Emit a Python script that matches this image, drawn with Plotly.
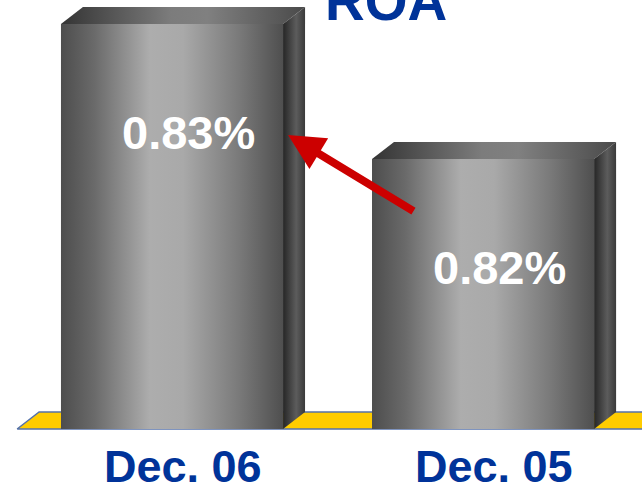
import plotly.graph_objects as go

# --- data ---------------------------------------------------------------
categories = ["Dec. 06", "Dec. 05"]
roa_values = [0.83, 0.82]
value_labels = ["0.83%", "0.82%"]
title_text = "ROA"

# --- styling / geometry constants ----------------------------------------
AXIS_BASE = 0.80          # the value axis is truncated at 0.80 %
HALF_W = 0.357            # half width of a bar front (category units)
DEPTH_X = 0.0707          # 3-D depth offset along x (category units)
DEPTH_Y = 0.00126         # 3-D depth offset along y (value units)
FONT = "Liberation Sans, Arial, sans-serif"
BLUE = "#003399"

front_scale = [[0, "#4d4d4d"], [0.15, "#6a6a6a"], [0.4, "#adadad"],
               [0.55, "#a9a9a9"], [0.8, "#7a7a7a"], [1, "#4f4f4f"]]
top_scale = [[0, "#343434"], [0.45, "#7c7c7c"], [0.6, "#808080"], [1, "#4a4a4a"]]
side_scale = [[0, "#262626"], [0.6, "#5c5c5c"], [1, "#3a3a3a"]]

fig = go.Figure()


def poly(xs, ys, scale=None, color=None, line=None):
    trace = dict(x=xs + [xs[0]], y=ys + [ys[0]], mode="lines", fill="toself",
                 hoverinfo="skip", showlegend=False,
                 line=line or dict(width=0, color="rgba(0,0,0,0)"))
    if scale is not None:
        trace["fillgradient"] = dict(type="horizontal", colorscale=scale)
    else:
        trace["fillcolor"] = color
    fig.add_trace(go.Scatter(**trace))


# floor strip under the bars
n = len(categories)
floor_left = -HALF_W - 0.141
floor_right = n + 1.0
poly([floor_left, floor_right, floor_right + DEPTH_X, floor_left + DEPTH_X],
     [AXIS_BASE, AXIS_BASE, AXIS_BASE + DEPTH_Y, AXIS_BASE + DEPTH_Y],
     color="#FFCC00", line=dict(width=1.5, color="#5572aa"))

# 3-D bars: front, top and side faces built from each value
for i, v in enumerate(roa_values):
    xl, xr = i - HALF_W, i + HALF_W
    poly([xl, xr, xr, xl], [AXIS_BASE, AXIS_BASE, v, v], scale=front_scale)
    poly([xl, xr, xr + DEPTH_X, xl + DEPTH_X], [v, v, v + DEPTH_Y, v + DEPTH_Y],
         scale=top_scale)
    poly([xr, xr, xr + DEPTH_X, xr + DEPTH_X],
         [AXIS_BASE, v, v + DEPTH_Y, AXIS_BASE + DEPTH_Y], scale=side_scale)

annotations = []
for i, (v, lab, cat) in enumerate(zip(roa_values, value_labels, categories)):
    annotations.append(dict(x=i + 0.053, y=v - 0.0080, xref="x", yref="y",
                            yanchor="middle",
                            text=f"<b>{lab}</b>", showarrow=False,
                            font=dict(family=FONT, size=47, color="white")))
    annotations.append(dict(x=i + 0.035, y=AXIS_BASE - 0.00281, xref="x", yref="y",
                            yanchor="middle",
                            text=f"<b>{cat}</b>", showarrow=False,
                            font=dict(family=FONT, size=45, color=BLUE)))

# title, partly running off the top edge
annotations.append(dict(x=0.601, y=0.997, xref="paper", yref="paper",
                        xanchor="center", yanchor="middle",
                        text=f"<b>{title_text}</b>", showarrow=False,
                        font=dict(family=FONT, size=55, color=BLUE)))

# red arrow from the Dec. 05 bar up to the Dec. 06 bar
annotations.append(dict(x=0.373, y=0.82178, xref="x", yref="y",
                        ax=0.781, ay=0.81607, axref="x", ayref="y",
                        text="", showarrow=True, arrowhead=2, arrowsize=0.9,
                        arrowwidth=8, arrowcolor="#CC0000", standoff=0))

fig.update_layout(
    width=642, height=493,
    margin=dict(l=0, r=0, t=0, b=0),
    paper_bgcolor="white", plot_bgcolor="white",
    xaxis=dict(range=[-0.553, 1.511], visible=False, fixedrange=True),
    yaxis=dict(range=[0.79526, 0.83178], visible=False, fixedrange=True),
    annotations=annotations,
)

fig.write_html("out.html")
